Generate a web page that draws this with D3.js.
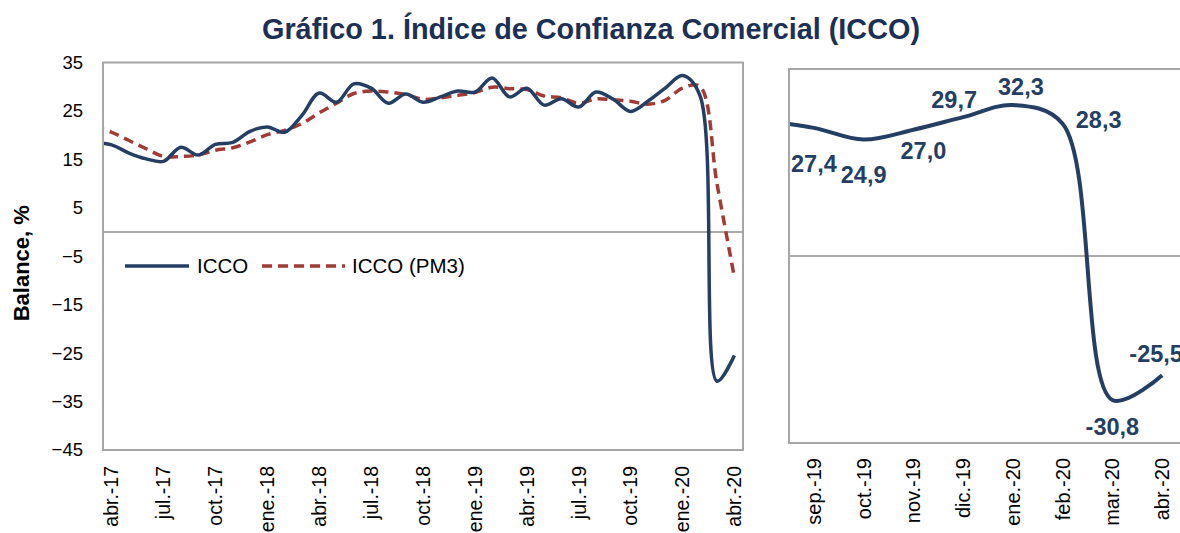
<!DOCTYPE html>
<html lang="es">
<head>
    <meta charset="UTF-8">
    <title>ICCO</title>
    <script src="https://d3js.org/d3.v7.min.js"></script>
    <style>
        html, body {
            margin: 0;
            background: #fff;
        }
        text {
            font-family: "Liberation Sans", Arial, sans-serif;
        }
    </style>
</head>
<body>
<div id="vis"></div>
<script>
// monthly series, mar.-17 (clipped at the left edge) to abr.-20
var months = ["mar.-17", "abr.-17", "may.-17", "jun.-17", "jul.-17", "ago.-17", "sep.-17", "oct.-17", "nov.-17", "dic.-17",
    "ene.-18", "feb.-18", "mar.-18", "abr.-18", "may.-18", "jun.-18", "jul.-18", "ago.-18", "sep.-18", "oct.-18", "nov.-18", "dic.-18",
    "ene.-19", "feb.-19", "mar.-19", "abr.-19", "may.-19", "jun.-19", "jul.-19", "ago.-19", "sep.-19", "oct.-19", "nov.-19", "dic.-19",
    "ene.-20", "feb.-20", "mar.-20", "abr.-20"];

var icco = [18.5, 18.0, 16.3, 15.1, 14.6, 17.5, 15.9, 18.1, 18.5, 20.8,
    21.7, 20.6, 24.1, 28.7, 26.8, 30.6, 29.7, 26.6, 28.5, 26.8, 27.9, 29.1,
    28.9, 31.8, 27.9, 29.7, 26.2, 27.5, 25.8, 28.9, 27.4, 24.9, 27.0, 29.7,
    32.3, 28.3, -30.8, -25.5];

var iccoPm3 = [21.8, 20.6, 18.9, 17.2, 15.6, 15.6, 15.9, 16.9, 17.4, 18.6,
    20.1, 21.0, 22.4, 24.6, 26.6, 28.6, 29.1, 28.9, 28.4, 27.4, 27.7, 28.2,
    28.8, 29.9, 29.6, 29.4, 28.1, 27.7, 26.6, 27.5, 27.3, 27.0, 26.4, 27.2,
    29.7, 30.1, 9.9, -9.3];

var leftTicks = ["abr.-17", "jul.-17", "oct.-17", "ene.-18", "abr.-18", "jul.-18", "oct.-18",
    "ene.-19", "abr.-19", "jul.-19", "oct.-19", "ene.-20", "abr.-20"];
var yTicks = [-45, -35, -25, -15, -5, 5, 15, 25, 35];

// zoom panel, ago.-19 (clipped) to abr.-20
var zoomMonths = ["ago.-19", "sep.-19", "oct.-19", "nov.-19", "dic.-19", "ene.-20", "feb.-20", "mar.-20", "abr.-20"];
var zoomIcco = [28.9, 27.4, 24.9, 27.0, 29.7, 32.3, 28.3, -30.8, -25.5];
var zoomLabels = ["27,4", "24,9", "27,0", "29,7", "32,3", "28,3", "-30,8", "-25,5"];
// label offsets from their point, pixels
var zoomLabelDx = [0, 0, 10, -9, 8, 36, 0, -6];
var zoomLabelDy = [44, 43, 29, -9, -10, 4, 35, -13];

var W = 1180, H = 533;
var navy = "#243f63", red = "#a23a36", grey = "#a6a6a6";

var svg = d3.select("#vis").append("svg")
    .attr("width", W)
    .attr("height", H);

// title
svg.append("text")
    .attr("x", 591)
    .attr("y", 39)
    .attr("text-anchor", "middle")
    .attr("textLength", 658)
    .attr("lengthAdjust", "spacingAndGlyphs")
    .style("font-size", "29px")
    .style("font-weight", "bold")
    .style("fill", "#1c2f55")
    .text("Gráfico 1. Índice de Confianza Comercial (ICCO)");

// ---- left panel ----
var L = {left: 103, right: 743, top: 62.5, bottom: 450};

var x = d3.scaleLinear()
    .domain([-0.5, 36.5])
    .range([L.left, L.right]);
var y = d3.scaleLinear()
    .domain([-45, 35])
    .range([L.bottom, L.top]);

svg.append("clipPath").attr("id", "clipL")
    .append("rect")
    .attr("x", L.left).attr("y", L.top)
    .attr("width", L.right - L.left).attr("height", L.bottom - L.top);

svg.append("line")
    .attr("x1", L.left).attr("x2", L.right)
    .attr("y1", y(0)).attr("y2", y(0))
    .attr("stroke", "#8f8f8f")
    .attr("stroke-width", 1.5);

var line = d3.line()
    .x(function(d, i) { return x(i - 1); })
    .y(function(d) { return y(d); })
    .curve(d3.curveCatmullRom.alpha(0.5));

var gl = svg.append("g").attr("clip-path", "url(#clipL)");

gl.append("path")
    .datum(iccoPm3)
    .attr("d", line)
    .attr("fill", "none")
    .attr("stroke", red)
    .attr("stroke-width", 3.5)
    .attr("stroke-dasharray", "10,6");

gl.append("path")
    .datum(icco)
    .attr("d", line)
    .attr("fill", "none")
    .attr("stroke", navy)
    .attr("stroke-width", 3.5);

svg.append("rect")
    .attr("x", L.left).attr("y", L.top)
    .attr("width", L.right - L.left).attr("height", L.bottom - L.top)
    .attr("fill", "none")
    .attr("stroke", grey)
    .attr("stroke-width", 2);

var yAxis = svg.append("g")
    .attr("transform", "translate(" + L.left + ",0)")
    .call(d3.axisLeft(y).tickValues(yTicks).tickSize(0).tickPadding(20));
yAxis.select(".domain").remove();
yAxis.selectAll("text")
    .style("font-size", "18.5px")
    .style("font-family", "'Liberation Sans', Arial, sans-serif")
    .style("fill", "#000");

leftTicks.forEach(function(m) {
    var i = months.indexOf(m) - 1;
    svg.append("text")
        .attr("transform", "translate(" + x(i) + "," + (L.bottom + 16) + ") rotate(-90)")
        .attr("dy", "0.35em")
        .attr("text-anchor", "end")
        .style("font-size", "19.5px")
        .text(m);
});

svg.append("text")
    .attr("transform", "translate(21," + ((L.top + L.bottom) / 2 + 7) + ") rotate(-90)")
    .attr("dy", "0.35em")
    .attr("text-anchor", "middle")
    .style("font-size", "22px")
    .style("font-weight", "bold")
    .text("Balance, %");

// legend
var leg = svg.append("g");
leg.append("line")
    .attr("x1", 125).attr("x2", 189).attr("y1", 266).attr("y2", 266)
    .attr("stroke", navy).attr("stroke-width", 3.5);
leg.append("text")
    .attr("x", 197).attr("y", 273)
    .style("font-size", "20.5px")
    .text("ICCO");
leg.append("line")
    .attr("x1", 262).attr("x2", 345).attr("y1", 266).attr("y2", 266)
    .attr("stroke", red).attr("stroke-width", 3.5)
    .attr("stroke-dasharray", "10,6");
leg.append("text")
    .attr("x", 352).attr("y", 273)
    .style("font-size", "20.5px")
    .text("ICCO (PM3)");

// ---- right panel (zoom) ----
var R = {left: 789, right: 1187, top: 69, bottom: 443};

var x2 = d3.scaleLinear()
    .domain([0.5, 8.5])
    .range([R.left, R.right]);
var y2 = d3.scaleLinear()
    .domain([-40, 40])
    .range([R.bottom, R.top]);

svg.append("clipPath").attr("id", "clipR")
    .append("rect")
    .attr("x", R.left).attr("y", R.top)
    .attr("width", R.right - R.left).attr("height", R.bottom - R.top);

svg.append("line")
    .attr("x1", R.left).attr("x2", R.right)
    .attr("y1", y2(0)).attr("y2", y2(0))
    .attr("stroke", "#8f8f8f")
    .attr("stroke-width", 1.5);

var line2 = d3.line()
    .x(function(d, i) { return x2(i); })
    .y(function(d) { return y2(d); })
    .curve(d3.curveCatmullRom.alpha(0.5));

svg.append("g").attr("clip-path", "url(#clipR)")
    .append("path")
    .datum(zoomIcco)
    .attr("d", line2)
    .attr("fill", "none")
    .attr("stroke", navy)
    .attr("stroke-width", 4);

svg.append("rect")
    .attr("x", R.left).attr("y", R.top)
    .attr("width", R.right - R.left).attr("height", R.bottom - R.top)
    .attr("fill", "none")
    .attr("stroke", grey)
    .attr("stroke-width", 2);

zoomLabels.forEach(function(lab, k) {
    var i = k + 1;
    svg.append("text")
        .attr("x", x2(i) + zoomLabelDx[k])
        .attr("y", y2(zoomIcco[i]) + zoomLabelDy[k])
        .attr("text-anchor", "middle")
        .style("font-size", "23.5px")
        .style("font-weight", "bold")
        .style("fill", navy)
        .text(lab);
});

zoomMonths.slice(1).forEach(function(m, k) {
    svg.append("text")
        .attr("transform", "translate(" + x2(k + 1) + "," + (R.bottom + 15) + ") rotate(-90)")
        .attr("dy", "0.35em")
        .attr("text-anchor", "end")
        .style("font-size", "20px")
        .text(m);
});
</script>
</body>
</html>
